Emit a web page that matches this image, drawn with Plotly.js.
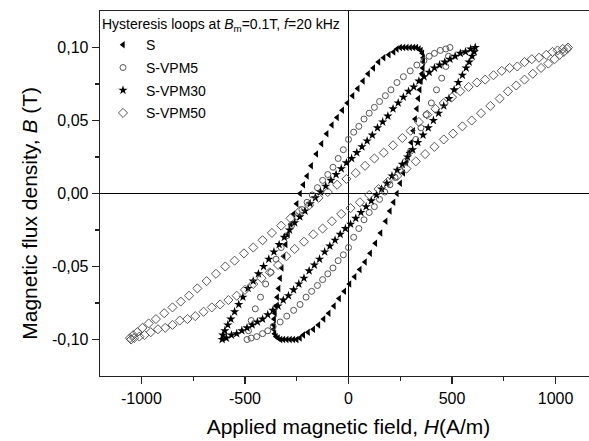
<!DOCTYPE html>
<html>
<head>
<meta charset="utf-8">
<script src="https://cdn.plot.ly/plotly-3.0.1.min.js"></script>
<style>
html,body{margin:0;padding:0;overflow:hidden;background:#fff;}
#chart{width:600px;height:441px;}
</style>
</head>
<body>
<div id="chart"></div>
<script>
// ---- data ----
var seriesNames = ["S", "S-VPM5", "S-VPM30", "S-VPM50"];

// S (triangles)
var sH = [-218,-195,-170,-145,-120,-95,-70,-45,-20,5,30,55,80,105,130,155,180,200,
  218,234,250,265,279,292,303,313,322,330,337,344,350,355,359,361,361,357,350,340,328,314,298,282,266,250,
  234,218,195,170,145,120,95,70,45,20,-5,-30,-55,-80,-105,-130,-155,-180,-200,
  -218,-234,-250,-265,-279,-292,-303,-313,-322,-330,-337,-344,-350,-355,-359,-361,-361,-357,-350,-340,-328,-314,-298,-282,-266,-250,-234];
var sB = [-0.097,-0.095,-0.093,-0.090,-0.086,-0.082,-0.077,-0.072,-0.067,-0.062,-0.057,-0.052,-0.047,-0.041,-0.034,-0.027,-0.019,-0.012,
  -0.006,0.000,0.007,0.014,0.021,0.028,0.035,0.043,0.051,0.058,0.065,0.071,0.077,0.082,0.086,0.090,0.093,0.096,0.098,0.099,0.100,0.100,0.100,0.100,0.100,0.100,
  0.099,0.097,0.095,0.093,0.090,0.086,0.082,0.077,0.072,0.067,0.062,0.057,0.052,0.047,0.041,0.034,0.027,0.019,0.012,
  0.006,0.000,-0.007,-0.014,-0.021,-0.028,-0.035,-0.043,-0.051,-0.058,-0.065,-0.071,-0.077,-0.082,-0.086,-0.090,-0.093,-0.096,-0.098,-0.099,-0.100,-0.100,-0.100,-0.100,-0.100,-0.100,-0.099];

// S-VPM5 (open circles)
var v5H = [-490,-470,-443,-415,-390,-364,-330,-298,-265,-234,-205,-178,-150,-125,-100,-75,-50,-25,0,25,50,75,100,125,150,175,200,225,250,275,300,325,350,375,400,425,450,470,483,
  490,470,443,415,390,364,330,298,265,234,205,178,150,125,100,75,50,25,0,-25,-50,-75,-100,-125,-150,-175,-200,-225,-250,-275,-300,-325,-350,-375,-400,-425,-450,-470,-483];
var v5B = [-0.100,-0.099,-0.098,-0.096,-0.094,-0.091,-0.088,-0.084,-0.080,-0.076,-0.071,-0.067,-0.063,-0.059,-0.055,-0.051,-0.046,-0.042,-0.037,-0.030,-0.024,-0.018,-0.013,-0.009,-0.004,0.001,0.006,0.011,0.016,0.022,0.029,0.037,0.045,0.054,0.062,0.071,0.079,0.087,0.094,
  0.100,0.099,0.098,0.096,0.094,0.091,0.088,0.084,0.080,0.076,0.071,0.067,0.063,0.059,0.055,0.051,0.046,0.042,0.037,0.030,0.024,0.018,0.013,0.009,0.004,-0.001,-0.006,-0.011,-0.016,-0.022,-0.029,-0.037,-0.045,-0.054,-0.062,-0.071,-0.079,-0.087,-0.094];

// S-VPM30 (stars)
var v30H = [-610,-590,-565,-540,-515,-490,-465,-440,-415,-390,-365,-340,-315,-290,-265,-240,-215,-190,-165,-140,-115,-90,-65,-40,-15,10,35,60,85,110,135,160,185,210,235,260,285,310,335,360,385,410,435,460,485,510,530,550,568,583,597,607,
  612,590,565,540,515,490,465,440,415,390,365,340,315,290,265,240,215,190,165,140,115,90,65,40,15,-10,-35,-60,-85,-110,-135,-160,-185,-210,-235,-260,-285,-310,-335,-360,-385,-410,-435,-460,-485,-510,-530,-550,-568,-583,-597,-607];
var v30B = [-0.100,-0.099,-0.097,-0.096,-0.094,-0.092,-0.090,-0.088,-0.086,-0.083,-0.080,-0.077,-0.073,-0.070,-0.066,-0.062,-0.058,-0.053,-0.049,-0.045,-0.040,-0.036,-0.032,-0.028,-0.024,-0.021,-0.017,-0.013,-0.009,-0.005,-0.001,0.003,0.007,0.012,0.016,0.020,0.025,0.030,0.035,0.040,0.045,0.050,0.055,0.060,0.065,0.071,0.076,0.081,0.086,0.090,0.094,0.097,
  0.100,0.099,0.097,0.096,0.094,0.092,0.090,0.088,0.086,0.083,0.080,0.077,0.073,0.070,0.066,0.062,0.058,0.053,0.049,0.045,0.040,0.036,0.032,0.028,0.024,0.021,0.017,0.013,0.009,0.005,0.001,-0.003,-0.007,-0.012,-0.016,-0.020,-0.025,-0.030,-0.035,-0.040,-0.045,-0.050,-0.055,-0.060,-0.065,-0.071,-0.076,-0.081,-0.086,-0.090,-0.094,-0.097];

// S-VPM50 (open diamonds)
var v50H = [-1050,-1035,-1010,-985,-955,-920,-885,-850,-815,-778,-740,-700,-660,-620,-580,-540,-500,-460,-420,-380,-340,-300,-260,-215,-170,-125,-80,-35,10,55,100,145,190,235,280,325,370,415,460,505,550,595,640,685,730,770,810,850,890,930,965,995,1020,1040,1055,
  1060,1035,1010,985,955,920,885,850,815,778,740,700,660,620,580,540,500,460,420,380,340,300,260,215,170,125,80,35,-10,-55,-100,-145,-190,-235,-280,-325,-370,-415,-460,-505,-550,-595,-640,-685,-730,-770,-810,-850,-890,-930,-965,-995,-1020,-1040,-1055];
var v50B = [-0.100,-0.099,-0.098,-0.097,-0.095,-0.093,-0.092,-0.090,-0.087,-0.086,-0.084,-0.081,-0.078,-0.076,-0.073,-0.070,-0.066,-0.062,-0.058,-0.054,-0.049,-0.043,-0.038,-0.033,-0.028,-0.024,-0.019,-0.014,-0.010,-0.006,-0.001,0.003,0.008,0.012,0.017,0.022,0.027,0.032,0.037,0.041,0.046,0.050,0.055,0.060,0.065,0.070,0.074,0.078,0.082,0.086,0.089,0.092,0.095,0.097,0.099,
  0.100,0.099,0.098,0.097,0.095,0.093,0.092,0.090,0.087,0.086,0.084,0.081,0.078,0.076,0.073,0.070,0.066,0.062,0.058,0.054,0.049,0.043,0.038,0.033,0.028,0.024,0.019,0.014,0.010,0.006,0.001,-0.003,-0.008,-0.012,-0.017,-0.022,-0.027,-0.032,-0.037,-0.041,-0.046,-0.050,-0.055,-0.060,-0.065,-0.070,-0.074,-0.078,-0.082,-0.086,-0.089,-0.092,-0.095,-0.097,-0.099];

var xTickVals = [-1000,-500,0,500,1000];
var xTickText = ["-1000","-500","0","500","1000"];
var xMinorVals = [-750,-250,250,750];
var yTickVals = [-0.10,-0.05,0.00,0.05,0.10];
var yTickText = ["-0,10","-0,05","0,00","0,05","0,10"];
var yMinorVals = [-0.075,-0.025,0.025,0.075];
var xTitle = "Applied magnetic field, <i>H</i>(A/m)";
var yTitle = "Magnetic flux density, <i>B</i> (T)";
var legendTitle = "Hysteresis loops at <i>B</i><sub>m</sub>=0.1T, <i>f</i>=20 kHz";

// ---- chart ----
var FONT = "Liberation Sans, Arial, sans-serif";
var traces = [
  {x: sH, y: sB, name: seriesNames[0], legendgroup: "g1", mode: "markers", type: "scatter",
   marker: {symbol: "triangle-left", size: 6.5, color: "#000"}},
  {x: v5H, y: v5B, name: seriesNames[1], legendgroup: "g2", mode: "markers", type: "scatter",
   marker: {symbol: "circle-open", size: 6, color: "#555", line: {width: 1}}},
  {x: v30H, y: v30B, name: seriesNames[2], legendgroup: "g3", mode: "markers", type: "scatter",
   marker: {symbol: "star", size: 7, color: "#000"}},
  {x: v50H, y: v50B, name: seriesNames[3], legendgroup: "g4", mode: "markers", type: "scatter",
   marker: {symbol: "diamond-open", size: 7, color: "#555", line: {width: 1}}}
];

var axisCommon = {
  showgrid: false, zeroline: true, zerolinecolor: "#000", zerolinewidth: 1.4,
  showline: true, linecolor: "#222", linewidth: 1.3, mirror: true,
  ticks: "outside", ticklen: 7, tickwidth: 1.2, tickcolor: "#222",
  tickfont: {family: FONT, size: 16, color: "#000"}
};

var layout = {
  width: 600, height: 441,
  margin: {l: 100, r: 3, t: 11, b: 65},
  paper_bgcolor: "#fff", plot_bgcolor: "#fff",
  font: {family: FONT, color: "#000"},
  showlegend: true,
  legend: {
    x: 0, y: 1, xanchor: "left", yanchor: "top",
    bgcolor: "rgba(0,0,0,0)", borderwidth: 0,
    itemwidth: 36, tracegroupgap: 1.5,
    font: {family: FONT, size: 14, color: "#000"},
    title: {text: legendTitle, font: {family: FONT, size: 14, color: "#000"}}
  },
  xaxis: Object.assign({}, axisCommon, {
    range: [-1200, 1200], tickmode: "array", tickvals: xTickVals, ticktext: xTickText,
    minor: {tickmode: "array", tickvals: xMinorVals, ticks: "outside", ticklen: 4, tickwidth: 1.2, tickcolor: "#222"},
    title: {text: xTitle, font: {family: FONT, size: 21, color: "#000"}, standoff: 13}
  }),
  yaxis: Object.assign({}, axisCommon, {
    range: [-0.125, 0.125], tickmode: "array", tickvals: yTickVals, ticktext: yTickText,
    minor: {tickmode: "array", tickvals: yMinorVals, ticks: "outside", ticklen: 4, tickwidth: 1.2, tickcolor: "#222"}
  }),
  annotations: [{
    text: yTitle, textangle: -90, showarrow: false,
    xref: "paper", yref: "paper", x: -0.141, y: 0.447, xanchor: "center", yanchor: "middle",
    font: {family: FONT, size: 21, color: "#000"}
  }]
};

Plotly.newPlot("chart", traces, layout, {displayModeBar: false, staticPlot: true});
</script>
</body>
</html>
